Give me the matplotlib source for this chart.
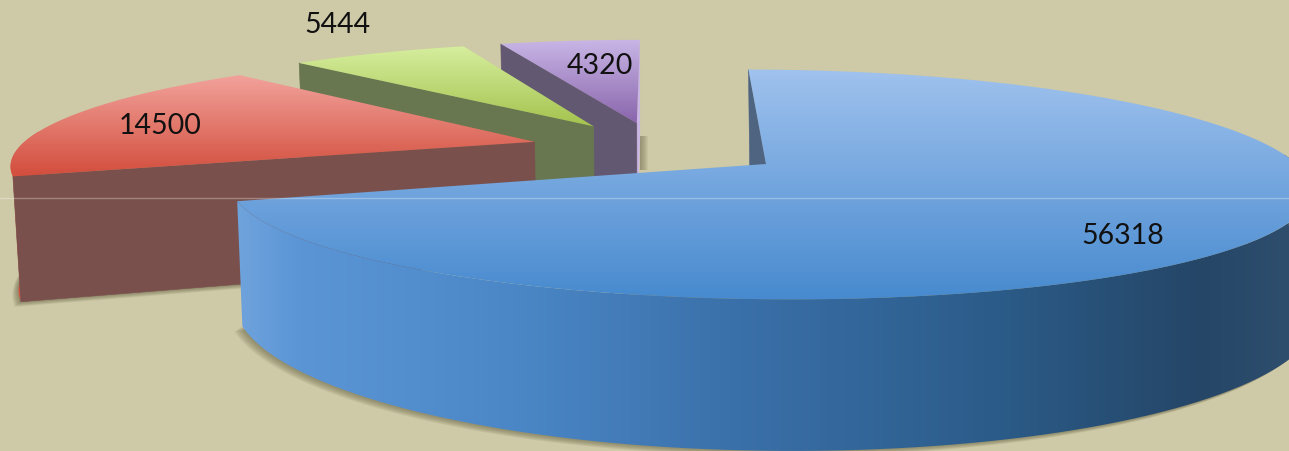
import numpy as np
import matplotlib
matplotlib.use("Agg")
import matplotlib.pyplot as plt
from matplotlib.colors import to_rgb
from matplotlib.path import Path
from matplotlib.patches import PathPatch, Polygon

# Slice values, clockwise from twelve o'clock
values = [56318, 14500, 5444, 4320]
labels = ["56318", "14500", "5444", "4320"]
label_xy = [(1123, 236), (160, 126), (337, 25), (600, 66)]

BG = "#CEC9A6"
top_stops = [
    [(70, "#A0C2EE"), (300, "#478ACF")],
    [(75, "#F2A39C"), (175, "#D34F3E")],
    [(47, "#D6EE9E"), (125, "#A5C450")],
    [(41, "#C8B6E6"), (122, "#8B66AD")],
]
rim_stops = [
    [(238, "#6FA3DC"), (300, "#5B95D6"), (500, "#4C88C8"), (740, "#3A70A9"),
     (1000, "#2B5B88"), (1200, "#254667"), (1289, "#2F4E6E")],
    [(0, "#D8503F"), (1289, "#D8503F")],
]
face_colors = ["#4E6480", "#7A504C", "#68774F", "#635872"]

# Perspective camera and pie geometry
EXPLODE = 0.25
K = 0.178
SCALE_X = 530.5
NARROWING = 0.014
SPREAD_X = 0.0125
DEPTH = [115.2, 123.0, 123.0, 123.0]
DEPTH_POWER = [0.4, 0.0, 0.0, 0.0]
NUDGE_X = [0.0, 0.0, 0.0, -1.0]
APEX = (766, 165)
VANISH = (650, -460)


def project(i, x, y, d=0.0):
    w = 1 + K * y
    sx = (VANISH[0] * K * y + SCALE_X * x * (1 - NARROWING * y) + APEX[0]) / w + NUDGE_X[i]
    sx = sx + d * SPREAD_X * np.abs(sx - VANISH[0])
    sy = (VANISH[1] * K * y + APEX[1]) / w
    sy = sy + d * DEPTH[i] / (w * np.minimum(w, 1.0) ** DEPTH_POWER[i])
    return np.column_stack([np.atleast_1d(sx), np.atleast_1d(sy)])


fractions = np.array(values, dtype=float) / sum(values)
edges = np.concatenate([[0], np.cumsum(fractions)]) * 2 * np.pi
mids = (edges[:-1] + edges[1:]) / 2
off_x = EXPLODE * (np.sin(mids) - np.sin(mids[0]))
off_y = EXPLODE * (np.cos(mids) - np.cos(mids[0]))

fig = plt.figure(figsize=(12.89, 4.52), dpi=100, facecolor=BG)
ax = fig.add_axes([0, 0, 1, 1])
ax.set_axis_off()
z = [10]


def gradient_fill(pts, stops, horizontal=False):
    """Fill a polygon with a linear colour ramp along one screen axis."""
    pos = np.array([s[0] for s in stops], dtype=float)
    rgb = np.array([to_rgb(s[1]) for s in stops])
    coord = np.arange(0, 1289 if horizontal else 452) + 0.5
    ramp = np.stack([np.interp(coord, pos, rgb[:, c]) for c in range(3)], axis=-1)
    img = ramp[None, :, :] if horizontal else ramp[:, None, :]
    z[0] += 1
    im = ax.imshow(img, extent=(0, 1289, 452, 0), aspect="auto", zorder=z[0],
                   interpolation="bilinear")
    im.set_clip_path(PathPatch(Path(np.vstack([pts, pts[0]])), transform=ax.transData))


def solid(pts, color, alpha=1.0, edge=False):
    z[0] += 1
    ax.add_patch(Polygon(pts, closed=True, fc=color, alpha=alpha, zorder=z[0],
                         ec=color if edge else "none", lw=0.4 if edge else 0))


def angles(i):
    return np.linspace(edges[i], edges[i + 1], 300)


def arc(i, d, t=None):
    t = angles(i) if t is None else t
    return project(i, off_x[i] + np.sin(t), off_y[i] + np.cos(t), d)


def spoke(i, angle, d):
    return project(i, off_x[i] + np.sin(angle), off_y[i] + np.cos(angle), d)


def apex(i, d):
    return project(i, off_x[i], off_y[i], d)


def drop_shadow(i, spread):
    base = np.vstack([apex(i, 1), arc(i, 1)])
    for n in range(1, 7):
        shift = np.array([-spread * n / 6, 5.0 * n / 6])
        solid(base + shift, "#5F5C3E", alpha=0.11)


ax.axhspan(0, 452, color=BG, zorder=0)

# Far slices are painted first so nearer ones overlap them
for i in [3, 2, 1, 0]:
    if i in (0, 1):
        drop_shadow(i, 8 if i == 0 else 6)

    # Outer wall, only where it faces the viewer
    if i in (0, 1):
        t = angles(i)
        t = t[np.cos(t) < 0.1]
        rim = np.vstack([arc(i, 0, t), arc(i, 1, t)[::-1]])
        gradient_fill(rim, rim_stops[i], horizontal=True)

    if i == 3:
        # Small soft shadow and thin pale wall on the purple slice's right edge
        tip = spoke(i, edges[4], 1)[0]
        for n in range(8):
            solid([(tip[0], tip[1] - 2), (tip[0] + 8 - n, tip[1] - 2),
                   (tip[0] + 8 - n, tip[1] + 32), (tip[0], tip[1] + 32)],
                  "#6E6B4E", alpha=0.09)
        right = np.vstack([apex(i, 0), spoke(i, edges[4], 0),
                           spoke(i, edges[4], 1), apex(i, 1)])
        solid(right, "#C9B6E2")

    # Cut face along the slice's starting edge
    face = np.vstack([apex(i, 0), spoke(i, edges[i], 0), spoke(i, edges[i], 1), apex(i, 1)])
    solid(face, face_colors[i], edge=True)

    top = np.vstack([apex(i, 0), arc(i, 0)])
    gradient_fill(top, top_stops[i])

# Faint highlight running across the whole width
ax.axhline(199, color="white", alpha=0.3, lw=1, zorder=z[0] + 1)

for text, (tx, ty) in zip(labels, label_xy):
    ax.text(tx, ty, text, ha="center", va="center", fontsize=20.5, family="Lato",
            color="#111111", zorder=z[0] + 2)

ax.set_xlim(0, 1289)
ax.set_ylim(452, 0)
fig.savefig("out.png", dpi=100, facecolor=BG)
